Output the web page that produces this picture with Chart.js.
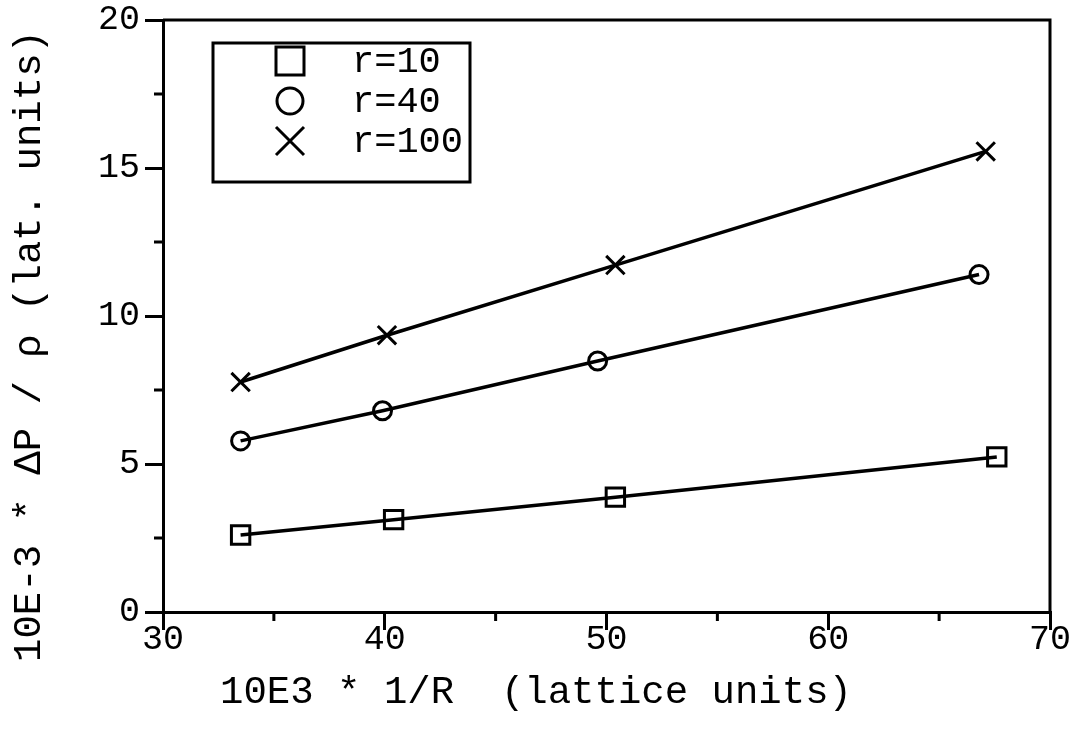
<!DOCTYPE html>
<html>
<head>
<meta charset="utf-8">
<script src="https://cdn.jsdelivr.net/npm/chart.js@4/dist/chart.umd.min.js"></script>
<style>html,body{margin:0;background:#fff}</style>
</head>
<body>
<canvas id="c" width="1075" height="743"></canvas>
<script>
// values
const xR10 = [33.5, 40.4, 50.4, 67.6];
const yR10 = [2.6, 3.12, 3.88, 5.24];
const xR40 = [33.5, 39.9, 49.6, 66.8];
const yR40 = [5.78, 6.8, 8.48, 11.4];
const xR100 = [33.5, 40.1, 50.4, 67.1];
const yR100 = [7.77, 9.35, 11.72, 15.56];
const seriesLabels = ['r=10', 'r=40', 'r=100'];
const xMinor = [35, 45, 55, 65];
const yMinor = [2.5, 7.5, 12.5, 17.5];
const xTitle = '10E3 * 1/R  (lattice units)';
const yTitle = '10E-3 * \u0394P / \u03c1 (lat. units)';

const FONT = '"Liberation Mono", "DejaVu Sans Mono", monospace';
const pts = (xs, ys) => xs.map((x, i) => ({ x, y: ys[i] }));

const styles = [
  { pointStyle: 'rect', pointRadius: 13 },
  { pointStyle: 'circle', pointRadius: 9 },
  { pointStyle: 'crossRot', pointRadius: 13 }
];
const series = [pts(xR10, yR10), pts(xR40, yR40), pts(xR100, yR100)];

// frame, minor ticks, axis titles and the boxed legend
const decor = {
  id: 'decor',
  afterDraw(chart) {
    const { ctx, chartArea: { left, right, top, bottom }, scales: { x, y } } = chart;
    ctx.save();
    ctx.strokeStyle = '#000';
    ctx.fillStyle = '#000';
    ctx.lineWidth = 3;
    ctx.beginPath();
    ctx.moveTo(left, top); ctx.lineTo(right, top); ctx.lineTo(right, bottom);
    xMinor.forEach(v => { const p = x.getPixelForValue(v); ctx.moveTo(p, bottom); ctx.lineTo(p, bottom + 9); });
    yMinor.forEach(v => { const p = y.getPixelForValue(v); ctx.moveTo(left, p); ctx.lineTo(left - 9, p); });
    ctx.stroke();

    ctx.font = '39px ' + FONT;
    ctx.textAlign = 'center';
    ctx.textBaseline = 'middle';
    ctx.fillText(xTitle, 536, 693);
    ctx.save();
    ctx.translate(30, 346);
    ctx.rotate(-Math.PI / 2);
    ctx.fillText(yTitle, 0, 0);
    ctx.restore();

    // legend
    ctx.strokeRect(213, 43, 257, 139);
    ctx.textAlign = 'left';
    ctx.font = '37px ' + FONT;
    chart.data.datasets.forEach((ds, i) => {
      const cy = 61 + 40 * i, cx = 290;
      ctx.beginPath();
      if (ds.pointStyle === 'rect') ctx.rect(cx - 14, cy - 14, 28, 28);
      else if (ds.pointStyle === 'circle') ctx.arc(cx, cy, 13, 0, Math.PI * 2);
      else { ctx.moveTo(cx - 14, cy - 14); ctx.lineTo(cx + 14, cy + 14); ctx.moveTo(cx + 14, cy - 14); ctx.lineTo(cx - 14, cy + 14); }
      ctx.stroke();
      ctx.fillText(ds.label, 352, cy + 1);
    });
    ctx.restore();
  }
};

new Chart(document.getElementById('c'), {
  type: 'scatter',
  data: {
    datasets: series.map((data, i) => ({
      label: seriesLabels[i],
      data,
      showLine: true,
      borderColor: '#000',
      borderWidth: 3.5,
      backgroundColor: 'rgba(0,0,0,0)',
      pointBorderColor: '#000',
      pointBackgroundColor: 'rgba(0,0,0,0)',
      pointBorderWidth: 3,
      ...styles[i]
    }))
  },
  options: {
    responsive: false,
    animation: false,
    events: [],
    layout: { padding: { top: 20, right: 25, left: 0, bottom: 0 } },
    plugins: { legend: { display: false }, tooltip: { enabled: false } },
    scales: {
      x: {
        type: 'linear', min: 30, max: 70,
        afterFit(s) { s.height = 131; s.paddingLeft = 0; s.paddingRight = 0; },
        ticks: { stepSize: 10, color: '#000', padding: -11, font: { family: FONT, size: 35 } },
        grid: { drawOnChartArea: false, tickLength: 18, lineWidth: 3, color: '#000' },
        border: { color: '#000', width: 3 }
      },
      y: {
        min: 0, max: 20,
        afterFit(s) { s.width = 163; s.paddingTop = 0; s.paddingBottom = 0; },
        ticks: { stepSize: 5, color: '#000', padding: 5, font: { family: FONT, size: 35 } },
        grid: { drawOnChartArea: false, tickLength: 18, lineWidth: 3, color: '#000' },
        border: { color: '#000', width: 3 }
      }
    }
  },
  plugins: [decor]
});
</script>
</body>
</html>
